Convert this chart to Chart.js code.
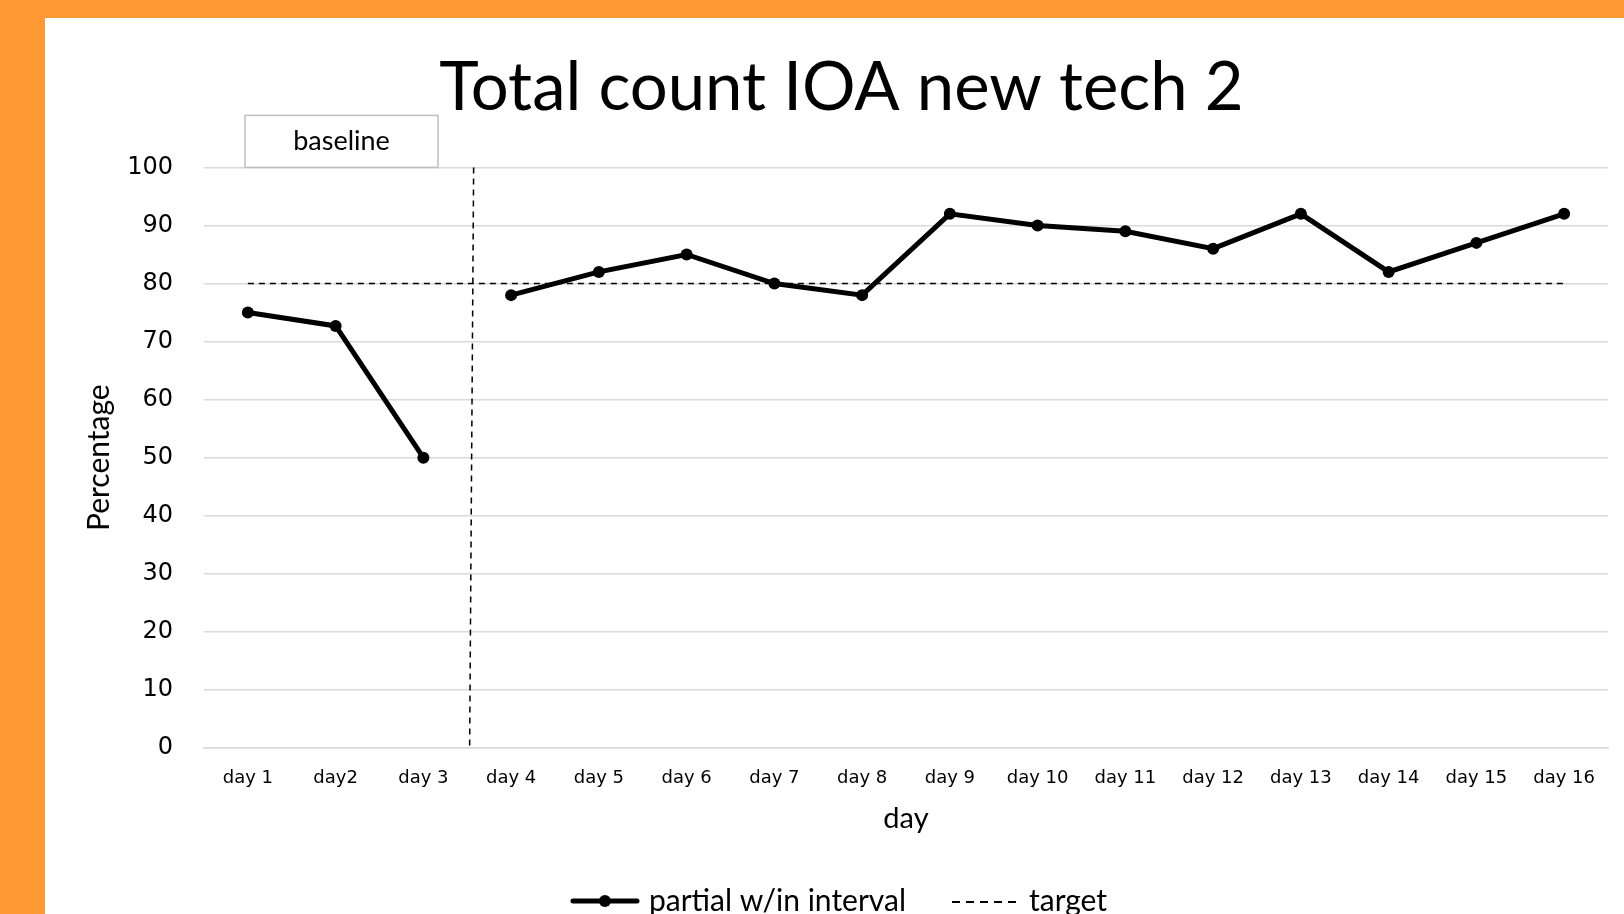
<!DOCTYPE html>
<html>
<head>
<meta charset="utf-8">
<script src="https://cdn.jsdelivr.net/npm/chart.js@4/dist/chart.umd.min.js"></script>
<style>
  html, body { margin: 0; padding: 0; }
  body { width: 1624px; height: 914px; background: #ff9933; overflow: hidden; position: relative; }
  #frame { position: absolute; left: 45px; top: 18px; width: 1579px; height: 896px; background: #fff; overflow: hidden; }
  #wrap { width: 1579px; height: 908px; }
</style>
</head>
<body>
<div id="frame"><div id="wrap"><canvas id="ioaChart"></canvas></div></div>
<script>
// data
const days = ['day 1', 'day2', 'day 3', 'day 4', 'day 5', 'day 6', 'day 7', 'day 8',
              'day 9', 'day 10', 'day 11', 'day 12', 'day 13', 'day 14', 'day 15', 'day 16'];
const partialWithin = [75, 72.7, 50, 78, 82, 85, 80, 78, 92, 90, 89, 86, 92, 82, 87, 92];
const targetValues = [80, 80, 80, 80, 80, 80, 80, 80, 80, 80, 80, 80, 80, 80, 80, 80];
const yTicks = [0, 10, 20, 30, 40, 50, 60, 70, 80, 90, 100];
const phaseChangeAt = 2.55;   // between day 3 and day 4 (category index)
const gapAfterIndex = 2;      // no line joining day 3 to day 4

const calibri = 'Lato, "Open Sans", sans-serif';
const tahoma = '"DejaVu Sans", Verdana, sans-serif';

// Legend icons drawn like the Excel legend
function makeLegendIcon(dashed) {
    const c = document.createElement('canvas');
    c.width = 70;
    c.height = 16;
    const g = c.getContext('2d');
    g.strokeStyle = '#000';
    if (dashed) {
        g.lineWidth = 2;
        g.setLineDash([8, 6]);
        g.beginPath();
        g.moveTo(2, 9);
        g.lineTo(68, 9);
        g.stroke();
    } else {
        g.lineWidth = 5;
        g.lineCap = 'round';
        g.beginPath();
        g.moveTo(3, 8);
        g.lineTo(67, 8);
        g.stroke();
        g.fillStyle = '#000';
        g.beginPath();
        g.arc(35, 8, 6, 0, Math.PI * 2);
        g.fill();
    }
    return c;
}

// Phase change line and "baseline" label box
const phasePlugin = {
    id: 'phase',
    afterDatasetsDraw(chart) {
        const { ctx, chartArea, scales } = chart;
        const x = scales.x.getPixelForValue(phaseChangeAt);
        ctx.save();
        ctx.strokeStyle = '#000';
        ctx.lineWidth = 1.5;
        ctx.setLineDash([6, 5]);
        ctx.beginPath();
        ctx.moveTo(x + 2, scales.y.getPixelForValue(100));
        ctx.lineTo(x - 2, scales.y.getPixelForValue(0));
        ctx.stroke();
        ctx.restore();

        // label box sits on top of the plot
        const bx = chartArea.left + 41, bw = 193, bh = 52;
        const by = chartArea.top - bh;
        ctx.save();
        ctx.fillStyle = '#fff';
        ctx.fillRect(bx, by, bw, bh);
        ctx.strokeStyle = '#bfbfbf';
        ctx.lineWidth = 1.5;
        ctx.strokeRect(bx, by, bw, bh);
        ctx.fillStyle = '#000';
        ctx.font = '27px ' + calibri;
        ctx.textAlign = 'center';
        ctx.textBaseline = 'middle';
        ctx.fillText('baseline', bx + bw / 2, by + bh / 2);
        ctx.restore();
    }
};

const ctx = document.getElementById('ioaChart').getContext('2d');
new Chart(ctx, {
    type: 'line',
    data: {
        labels: days,
        datasets: [{
            label: 'partial w/in interval',
            data: partialWithin,
            borderColor: '#000',
            backgroundColor: '#000',
            borderWidth: 5,
            pointRadius: 6,
            pointBackgroundColor: '#000',
            pointBorderWidth: 0,
            tension: 0,
            segment: {
                borderColor: c => c.p0DataIndex === gapAfterIndex ? 'rgba(0,0,0,0)' : '#000'
            }
        }, {
            label: 'target',
            data: targetValues,
            borderColor: '#000',
            borderWidth: 1.5,
            borderDash: [6, 5],
            pointRadius: 0,
            tension: 0
        }]
    },
    options: {
        responsive: true,
        maintainAspectRatio: false,
        animation: false,
        events: [],
        layout: { padding: { left: 30, right: 16, top: 0, bottom: 0 } },
        plugins: {
            title: {
                display: true,
                text: 'Total count IOA new tech 2',
                color: '#000',
                font: { family: calibri, size: 67, weight: 'normal' },
                padding: { top: 30, bottom: 39 }
            },
            legend: {
                position: 'bottom',
                labels: {
                    usePointStyle: true,
                    pointStyleWidth: 58,
                    padding: 50,
                    color: '#000',
                    font: { family: calibri, size: 30 },
                    generateLabels() {
                        return [
                            { text: 'partial w/in interval', pointStyle: makeLegendIcon(false), lineWidth: 0, strokeStyle: 'rgba(0,0,0,0)', fillStyle: 'rgba(0,0,0,0)', fontColor: '#000', datasetIndex: 0 },
                            { text: 'target', pointStyle: makeLegendIcon(true), lineWidth: 0, strokeStyle: 'rgba(0,0,0,0)', fillStyle: 'rgba(0,0,0,0)', fontColor: '#000', datasetIndex: 1 }
                        ];
                    }
                }
            },
            tooltip: { enabled: false }
        },
        scales: {
            x: {
                offset: true,
                grid: { display: false, drawTicks: false },
                border: { display: true, color: '#d9d9d9', width: 1.5 },
                ticks: { color: '#000', font: { family: tahoma, size: 18 }, padding: 20, maxRotation: 0, autoSkip: false },
                title: { display: true, text: 'day', color: '#000', font: { family: calibri, size: 29 }, padding: { top: 0, bottom: 0 } },
                afterFit(scale) { scale.height = 88; }
            },
            y: {
                min: 0,
                max: 100,
                afterBuildTicks(scale) { scale.ticks = yTicks.map(v => ({ value: v })); },
                grid: { color: '#d9d9d9', lineWidth: 1.5, drawTicks: false },
                border: { display: false },
                ticks: { color: '#000', font: { family: tahoma, size: 24 }, padding: 31 },
                title: { display: true, text: 'Percentage', color: '#000', font: { family: calibri, size: 30 }, padding: { top: 6, bottom: 0 } },
                afterFit(scale) { scale.width = 129; }
            }
        }
    },
    plugins: [phasePlugin]
});
</script>
</body>
</html>
